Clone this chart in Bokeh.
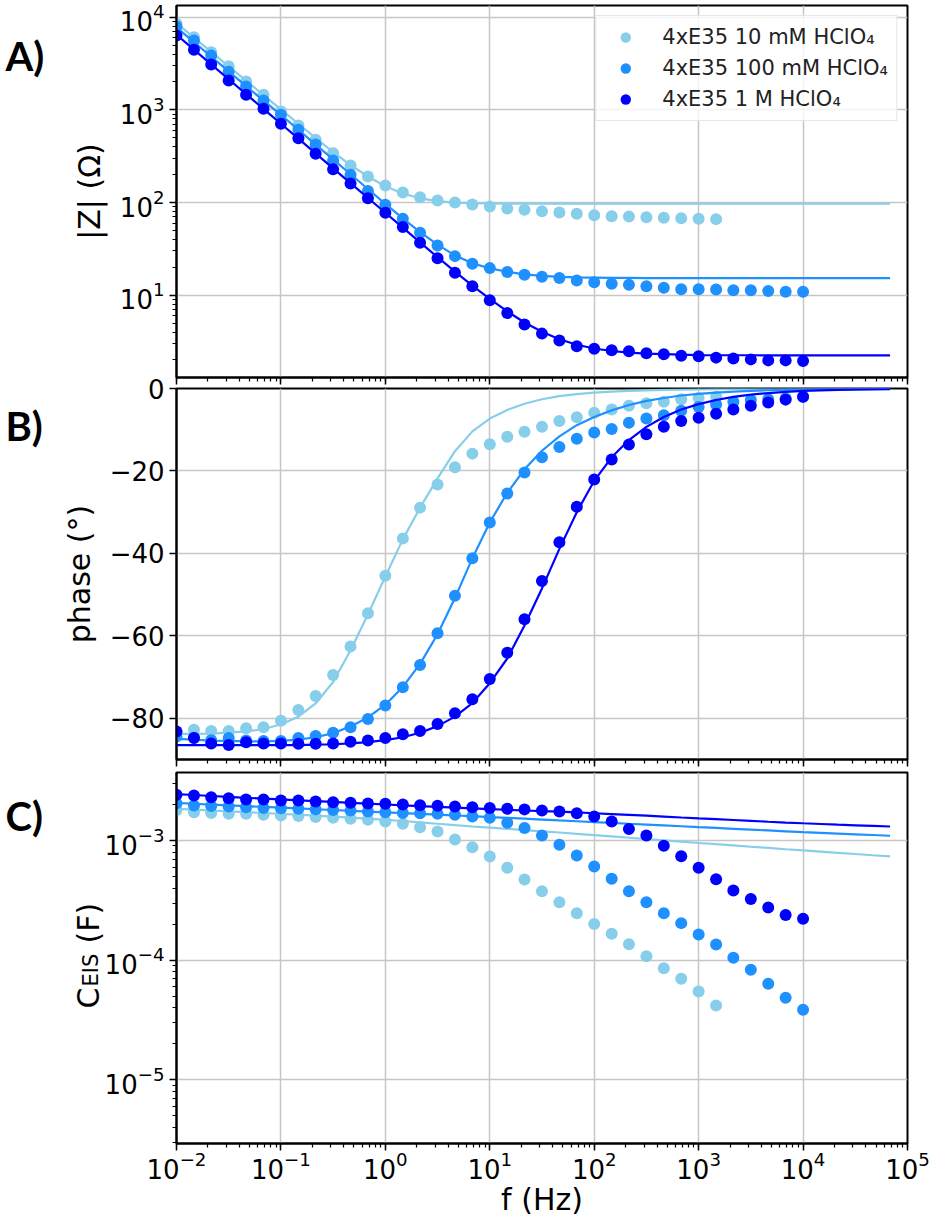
import math
from bokeh.plotting import figure
from bokeh.models import Range1d, FixedTicker
from bokeh.layouts import column, row
from bokeh.embed import file_html
from bokeh.resources import INLINE
from bokeh.core.properties import value

# ---------------- data ----------------
series_labels = ["4xE35 10 mM HClO\u2084", "4xE35 100 mM HClO\u2084", "4xE35 1 M HClO\u2084"]
colors = ["#87CEEB", "#1E90FF", "#0000FF"]

freq = [0.01, 0.0147, 0.0215, 0.0316, 0.0464, 0.0681, 0.1, 0.147, 0.215, 0.316, 0.464, 0.681,
        1.0, 1.47, 2.15, 3.16, 4.64, 6.81, 10.0, 14.7, 21.5, 31.6, 46.4, 68.1,
        100.0, 147.0, 215.0, 316.0, 464.0, 681.0, 1000.0, 1470.0, 2150.0, 3160.0, 4640.0, 6810.0, 10000.0]
freq_10mM = freq[:32]
freq_fit = [0.01, 0.0147, 0.0215, 0.0316, 0.0464, 0.0681, 0.1, 0.147, 0.215, 0.316, 0.464, 0.681,
            1.0, 1.47, 2.15, 3.16, 4.64, 6.81, 10.0, 14.7, 21.5, 31.6, 46.4, 68.1,
            100.0, 147.0, 215.0, 316.0, 464.0, 681.0, 1000.0, 1470.0, 2150.0, 3160.0, 4640.0, 6810.0,
            10000.0, 14700.0, 21500.0, 31600.0, 46400.0, 68100.0]

# |Z| (Ohm)
zmod_10mM = [8490, 6080, 4190, 2960, 2020, 1455, 962, 679, 475, 341, 251, 191, 153, 128, 114, 105,
             100, 95.5, 90.8, 86.3, 83.6, 80.7, 78.2, 75.7, 73.1, 71.3, 70.8, 69.5, 68.5, 67.5, 67.0, 66.2]
zmod_100mM = [7950, 5610, 3860, 2580, 1790, 1260, 885, 610, 424, 285, 200, 133, 94.6, 66.8, 47.2, 34.4,
              26.4, 21.9, 19.6, 17.8, 16.6, 15.8, 15.3, 14.4, 13.8, 13.3, 13.0, 12.5, 12.0, 11.6, 11.6,
              11.5, 11.3, 11.3, 11.1, 10.9, 10.9]
zmod_1M = [6340, 4450, 3090, 2080, 1456, 1028, 708, 495, 336, 228, 160, 111, 77.6, 54.3, 36.8, 25.1,
           17.5, 12.5, 8.80, 6.41, 4.84, 3.85, 3.25, 2.82, 2.65, 2.54, 2.48, 2.37, 2.30, 2.22, 2.19,
           2.12, 2.08, 2.03, 1.98, 1.98, 1.95]
zfit_10mM = [8610, 6030, 4220, 2950, 2070, 1445, 1012, 708, 495, 351, 254, 191, 150, 125, 111, 103.5,
             100, 98.5, 97.8, 97.5, 97.3, 97.2, 97.1, 97.0, 97.0, 97.0, 97.0, 97.0, 97.0, 97.0, 97.0,
             97.0, 97.0, 97.0, 97.0, 97.0, 97.0, 97.0, 97.0, 97.0, 97.0, 97.0]
zfit_100mM = [7760, 5370, 3760, 2600, 1800, 1260, 881, 610, 422, 292, 202, 140, 96.6, 67.6, 47.9, 35.1,
              26.9, 22.1, 19.5, 17.9, 16.8, 16.2, 15.8, 15.6, 15.5, 15.4, 15.35, 15.3, 15.3, 15.3, 15.3,
              15.3, 15.3, 15.3, 15.3, 15.3, 15.3, 15.3, 15.3, 15.3, 15.3, 15.3]
zfit_1M = [6460, 4470, 3090, 2140, 1480, 1023, 708, 490, 339, 234, 162, 112, 77.6, 53.7, 37.2, 25.7,
           18.0, 12.7, 9.12, 6.68, 5.07, 4.03, 3.35, 2.92, 2.66, 2.50, 2.40, 2.34, 2.31, 2.28, 2.26,
           2.25, 2.25, 2.25, 2.24, 2.24, 2.24, 2.24, 2.24, 2.24, 2.24, 2.24]

# phase (deg)
phase_10mM = [-83.5, -82.8, -83.1, -83.1, -82.4, -82.2, -80.6, -78.0, -74.6, -69.5, -62.6, -54.5,
              -45.4, -36.4, -28.9, -23.3, -19.1, -15.8, -13.5, -11.7, -10.5, -9.3, -7.9, -7.0,
              -5.9, -5.1, -4.2, -3.6, -3.2, -2.6, -2.3, -2.0]
phase_100mM = [-84.4, -84.7, -85.3, -84.8, -85.4, -85.5, -85.5, -84.8, -84.3, -83.5, -82.2, -80.2,
               -76.9, -72.5, -67.1, -59.4, -50.3, -41.2, -32.5, -25.5, -20.4, -16.7, -14.2, -12.2,
               -10.7, -9.8, -8.3, -7.3, -6.5, -5.4, -4.5, -3.9, -3.2, -2.8, -2.6, -2.4, -2.0]
phase_1M = [-83.2, -84.8, -86.1, -86.5, -85.8, -86.1, -86.1, -86.2, -86.2, -86.1, -85.7, -85.4,
            -84.8, -83.9, -83.1, -81.4, -78.8, -75.4, -70.5, -64.1, -56.0, -46.7, -37.3, -28.7,
            -22.1, -17.2, -13.6, -11.1, -9.3, -7.9, -7.1, -6.1, -5.1, -4.2, -3.4, -2.7, -2.0]
pfit_10mM = [-83.8, -83.8, -83.7, -83.5, -83.2, -82.6, -81.5, -79.6, -76.4, -71.2, -63.5, -54.8,
             -45.6, -36.6, -28.9, -21.8, -15.2, -10.4, -7.3, -5.2, -3.7, -2.6, -1.85, -1.35,
             -1.0, -0.75, -0.58, -0.45, -0.35, -0.27, -0.2, -0.16, -0.12, -0.1, -0.08, -0.06,
             -0.05, -0.04, -0.03, -0.02, -0.02, -0.01]
pfit_100mM = [-85.0, -85.2, -85.4, -85.5, -85.6, -85.6, -85.5, -85.2, -84.6, -83.6, -82.0, -79.8,
              -76.7, -72.4, -66.8, -59.6, -50.8, -41.2, -32.5, -25.3, -19.6, -15.1, -11.6, -8.9,
              -6.9, -5.3, -4.0, -3.0, -2.3, -1.7, -1.3, -1.0, -0.75, -0.56, -0.42, -0.32,
              -0.24, -0.18, -0.14, -0.1, -0.08, -0.06]
pfit_1M = [-86.5, -86.5, -86.5, -86.5, -86.5, -86.5, -86.5, -86.5, -86.4, -86.3, -86.1, -85.8,
           -85.3, -84.6, -83.5, -81.9, -79.6, -76.3, -71.5, -65.5, -57.5, -48.5, -38.9, -30.0,
           -22.4, -16.7, -12.5, -9.3, -6.9, -5.1, -3.8, -2.8, -2.05, -1.5, -1.1, -0.8,
           -0.6, -0.45, -0.34, -0.26, -0.2, -0.15]

# C_EIS (F)
cap_10mM = [1.80e-3, 1.72e-3, 1.70e-3, 1.67e-3, 1.67e-3, 1.64e-3, 1.62e-3, 1.60e-3, 1.57e-3, 1.55e-3,
            1.52e-3, 1.49e-3, 1.44e-3, 1.38e-3, 1.29e-3, 1.19e-3, 1.02e-3, 8.79e-4, 7.35e-4, 5.92e-4,
            4.72e-4, 3.77e-4, 3.05e-4, 2.47e-4, 2.01e-4, 1.66e-4, 1.36e-4, 1.08e-4, 8.57e-5, 7.00e-5,
            5.47e-5, 4.19e-5]
cap_100mM = [2.05e-3, 1.96e-3, 1.94e-3, 1.92e-3, 1.90e-3, 1.87e-3, 1.86e-3, 1.84e-3, 1.82e-3, 1.80e-3,
             1.78e-3, 1.75e-3, 1.72e-3, 1.70e-3, 1.69e-3, 1.67e-3, 1.64e-3, 1.59e-3, 1.55e-3, 1.41e-3,
             1.27e-3, 1.10e-3, 9.20e-4, 7.50e-4, 6.07e-4, 4.79e-4, 3.77e-4, 3.05e-4, 2.47e-4, 2.04e-4,
             1.64e-4, 1.35e-4, 1.05e-4, 8.32e-5, 6.35e-5, 4.85e-5, 3.85e-5]
cap_1M = [2.41e-3, 2.38e-3, 2.30e-3, 2.25e-3, 2.20e-3, 2.20e-3, 2.16e-3, 2.16e-3, 2.12e-3, 2.09e-3,
          2.07e-3, 2.04e-3, 2.03e-3, 2.00e-3, 1.97e-3, 1.95e-3, 1.92e-3, 1.90e-3, 1.87e-3, 1.84e-3,
          1.82e-3, 1.78e-3, 1.75e-3, 1.69e-3, 1.59e-3, 1.44e-3, 1.25e-3, 1.10e-3, 9.04e-4, 7.40e-4,
          5.92e-4, 4.75e-4, 3.82e-4, 3.24e-4, 2.75e-4, 2.39e-4, 2.22e-4]
cfit_10mM = [1.841e-3, 1.811e-3, 1.782e-3, 1.754e-3, 1.726e-3, 1.698e-3, 1.671e-3, 1.641e-3, 1.611e-3,
             1.581e-3, 1.552e-3, 1.521e-3, 1.489e-3, 1.455e-3, 1.419e-3, 1.380e-3, 1.343e-3, 1.309e-3,
             1.279e-3, 1.250e-3, 1.222e-3, 1.194e-3, 1.167e-3, 1.138e-3, 1.109e-3, 1.081e-3, 1.054e-3,
             1.028e-3, 1.002e-3, 9.77e-4, 9.53e-4, 9.31e-4, 9.10e-4, 8.87e-4, 8.67e-4, 8.45e-4,
             8.26e-4, 8.07e-4, 7.89e-4, 7.71e-4, 7.53e-4, 7.36e-4]
cfit_100mM = [2.061e-3, 2.028e-3, 1.995e-3, 1.968e-3, 1.936e-3, 1.910e-3, 1.879e-3, 1.854e-3, 1.824e-3,
              1.799e-3, 1.770e-3, 1.746e-3, 1.718e-3, 1.694e-3, 1.667e-3, 1.644e-3, 1.618e-3, 1.596e-3,
              1.570e-3, 1.545e-3, 1.521e-3, 1.496e-3, 1.472e-3, 1.449e-3, 1.426e-3, 1.403e-3, 1.380e-3,
              1.358e-3, 1.337e-3, 1.315e-3, 1.294e-3, 1.274e-3, 1.253e-3, 1.233e-3, 1.213e-3, 1.194e-3,
              1.175e-3, 1.159e-3, 1.143e-3, 1.127e-3, 1.112e-3, 1.096e-3]
cfit_1M = [2.443e-3, 2.399e-3, 2.355e-3, 2.312e-3, 2.275e-3, 2.239e-3, 2.203e-3, 2.168e-3, 2.133e-3,
           2.099e-3, 2.065e-3, 2.032e-3, 2.000e-3, 1.968e-3, 1.941e-3, 1.910e-3, 1.884e-3, 1.858e-3,
           1.832e-3, 1.807e-3, 1.782e-3, 1.762e-3, 1.742e-3, 1.718e-3, 1.690e-3, 1.663e-3, 1.637e-3,
           1.611e-3, 1.585e-3, 1.556e-3, 1.531e-3, 1.507e-3, 1.483e-3, 1.459e-3, 1.435e-3, 1.413e-3,
           1.393e-3, 1.374e-3, 1.355e-3, 1.340e-3, 1.324e-3, 1.309e-3]

phase_ticks = [-80, -60, -40, -20, 0]
phase_tick_labels = ["\u221280", "\u221260", "\u221240", "\u221220", "0"]
panel_letters = ["A)", "B)", "C)"]

# ---------------- layout geometry (pixels) ----------------
FONT = "DejaVu Sans"
LEFT_W = 176          # left border (frame starts here)
TOTAL_W = 933
TOTAL_H = 1222
x_range = Range1d(1e-2, 1e5)


def make_fig(y_range, y_type, height, b_top, b_bottom, m_top):
    p = figure(width=TOTAL_W, height=height, x_axis_type="log", y_axis_type=y_type,
               x_range=x_range, y_range=y_range, output_backend="svg",
               toolbar_location=None, min_border_left=LEFT_W, min_border_right=26,
               min_border_top=b_top, min_border_bottom=b_bottom, margin=(m_top, 0, 0, 0))
    p.border_fill_alpha = 0
    p.background_fill_color = "white"
    p.outline_line_color = "black"
    p.outline_line_width = 2
    for g in (p.xgrid, p.ygrid):
        g.grid_line_color = "#c6c6c6"
        g.grid_line_width = 1.5
    for ax in (p.xaxis, p.yaxis):
        ax.axis_line_color = "black"
        ax.axis_line_width = 2
        ax.major_tick_in = 0
        ax.major_tick_out = 7
        ax.major_tick_line_width = 1.5
        ax.minor_tick_in = 0
        ax.minor_tick_out = 4
        ax.minor_tick_line_width = 1.2
        ax.major_label_text_font = FONT
        ax.major_label_text_font_size = "26px"
        ax.major_label_text_color = "black"
        ax.axis_label_text_font = FONT
        ax.axis_label_text_font_size = "30px"
        ax.axis_label_text_font_style = "normal"
        ax.axis_label_text_color = "black"
        ax.axis_label_standoff = 10
    return p


def hide_x_labels(p):
    p.xaxis.major_label_text_font_size = "1px"
    p.xaxis.major_label_text_alpha = 0
    p.xaxis.major_label_standoff = 0


# ---------------- panel A: |Z| ----------------
pA = make_fig(Range1d(1.294, 13370), "log", 389, 5, 12, 0)
hide_x_labels(pA)
pA.yaxis.axis_label = "|Z| (\u03a9)"

z_pts = [(freq_10mM, zmod_10mM), (freq, zmod_100mM), (freq, zmod_1M)]
z_fit = [zfit_10mM, zfit_100mM, zfit_1M]
for (fx, zy), zf, c, lab in zip(z_pts, z_fit, colors, series_labels):
    pA.scatter(fx, zy, size=12, fill_color=c, line_color=None, legend_label=lab)
    pA.line(freq_fit, zf, line_color=c, line_width=2.2)

lg = pA.legend[0]
lg.location = "top_right"
lg.margin = 10
lg.padding = 8
lg.spacing = 5
lg.glyph_width = 42
lg.glyph_height = 26
lg.label_height = 26
lg.label_standoff = 16
lg.label_text_font = FONT
lg.label_text_font_size = "21px"
lg.label_text_color = "#222222"
lg.border_line_color = "#d0d0d0"
lg.border_line_width = 1.5
lg.background_fill_alpha = 0.8

# ---------------- panel B: phase ----------------
pB = make_fig(Range1d(-90.0, 0.0), "linear", 398, 15, 12, -16)
hide_x_labels(pB)
pB.yaxis.axis_label = "phase (\u00b0)"
pB.yaxis.ticker = FixedTicker(ticks=phase_ticks)
pB.yaxis.major_label_overrides = {t: s for t, s in zip(phase_ticks, phase_tick_labels)}

p_pts = [(freq_10mM, phase_10mM), (freq, phase_100mM), (freq, phase_1M)]
p_fit = [pfit_10mM, pfit_100mM, pfit_1M]
for (fx, py), pf, c in zip(p_pts, p_fit, colors):
    pB.scatter(fx, py, size=12, fill_color=c, line_color=None)
    pB.line(freq_fit, pf, line_color=c, line_width=2.2)

# ---------------- panel C: C_EIS ----------------
pC = make_fig(Range1d(2.94e-6, 3.70e-3), "log", 465, 15, 79, -14)
pC.xaxis.axis_label = "f (Hz)"
pC.xaxis.major_label_standoff = 0
pC.xaxis.axis_label_standoff = 0

c_pts = [(freq_10mM, cap_10mM), (freq, cap_100mM), (freq, cap_1M)]
c_fit = [cfit_10mM, cfit_100mM, cfit_1M]
for (fx, cy), cf, c in zip(c_pts, c_fit, colors):
    pC.scatter(fx, cy, size=12, fill_color=c, line_color=None)
    pC.line(freq_fit, cf, line_color=c, line_width=2.2)

# ---------------- left strip: panel letters and C_EIS title ----------------
strip = figure(width=LEFT_W, height=TOTAL_H, x_range=Range1d(0, LEFT_W), y_range=Range1d(0, TOTAL_H),
               output_backend="svg", toolbar_location=None, x_axis_location=None,
               y_axis_location=None, min_border=0, margin=(0, 0, 0, 0))
strip.grid.visible = False
strip.outline_line_color = None
strip.background_fill_color = "white"
strip.border_fill_color = "white"

# page-pixel anchor positions (y measured from top)
letter_x = [5, 5, 5]
letter_y = [55, 425, 815]
strip.text(x=letter_x, y=[TOTAL_H - v for v in letter_y], text=panel_letters,
           text_font=value("Lato"), text_font_style="bold", text_font_size="40px",
           text_align="left", text_baseline="alphabetic", text_color="black")

title_parts = ["C", "EIS", "(F)"]
title_sizes = ["30px", "21px", "30px"]
title_x = [88, 90, 88]
title_y = [1008, 986, 943]
for txt, size, tx, ty in zip(title_parts, title_sizes, title_x, title_y):
    strip.text(x=[tx], y=[TOTAL_H - ty], text=[txt], angle=math.pi / 2,
               text_font=value(FONT), text_font_size=size,
               text_align="left", text_baseline="alphabetic", text_color="black")

panels = column(pA, pB, pC, spacing=0, margin=(0, 0, 0, -LEFT_W))
layout = row(strip, panels, spacing=0)
open("out.html", "w").write(file_html(layout, INLINE))
